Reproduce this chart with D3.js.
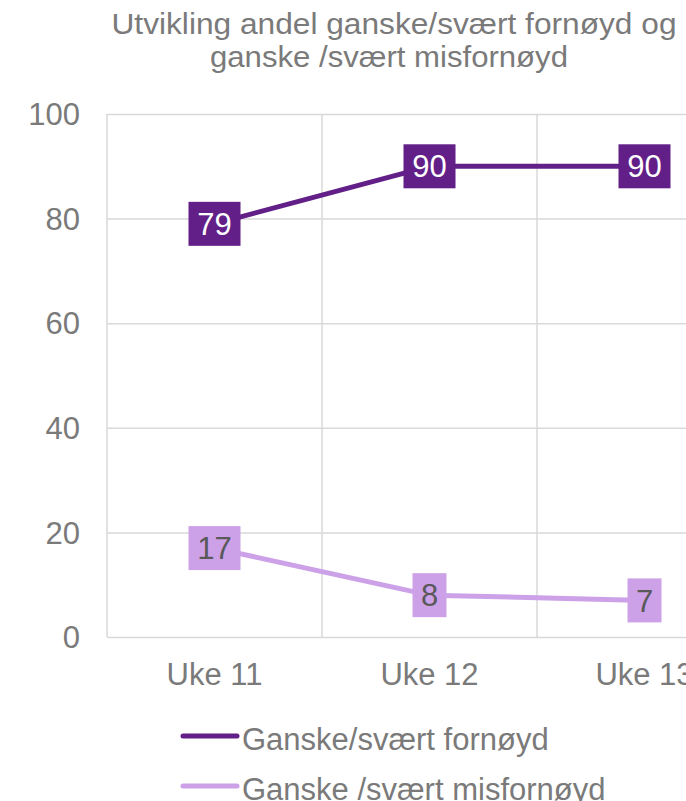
<!DOCTYPE html>
<html>
<head>
<meta charset="utf-8">
<title>Utvikling andel ganske/svært fornøyd</title>
<script src="https://d3js.org/d3.v7.min.js"></script>
<style>
  body { margin: 0; background: #fff; }
  text { font-family: "Liberation Sans", Arial, sans-serif; }
  .grid line { stroke: #d9d9d9; stroke-width: 1.5; }
  .grid path { display: none; }
</style>
</head>
<body>
<svg id="chart" width="686" height="801"></svg>
<script>
var categories = ["Uke 11", "Uke 12", "Uke 13"];
var fornoyd = [79, 90, 90];
var misfornoyd = [17, 8, 7];
var yTicks = [0, 20, 40, 60, 80, 100];
var seriesNames = ["Ganske/svært fornøyd", "Ganske /svært misfornøyd"];
var titleLines = ["Utvikling andel ganske/svært fornøyd og", "ganske /svært misfornøyd"];

var svg = d3.select("#chart");
var margin = {left: 107, top: 114},
    plotH = 523,
    step = 215;

var x = d3.scaleBand()
  .domain(categories)
  .range([margin.left, margin.left + step * categories.length]);
var y = d3.scaleLinear()
  .domain([0, 100])
  .range([margin.top + plotH, margin.top]);

// horizontal grid
svg.append("g").attr("class", "grid")
  .attr("transform", "translate(" + margin.left + ",0)")
  .call(d3.axisLeft(y).tickValues(yTicks).tickSize(-(step * 3)).tickFormat(""));

// vertical grid at category boundaries
svg.append("g").attr("class", "grid")
  .selectAll("line")
  .data(d3.range(categories.length + 1))
  .enter().append("line")
  .attr("x1", function(i) { return margin.left + i * step; })
  .attr("x2", function(i) { return margin.left + i * step; })
  .attr("y1", y(100))
  .attr("y2", y(0));

// y tick labels
svg.append("g").selectAll("text")
  .data(yTicks)
  .enter().append("text")
  .attr("x", 80)
  .attr("y", function(d) { return y(d); })
  .attr("dy", "0.36em")
  .attr("text-anchor", "end")
  .attr("fill", "#7a7a7a")
  .style("font-size", "31px")
  .text(function(d) { return d; });

// x labels
svg.append("g").selectAll("text")
  .data(categories)
  .enter().append("text")
  .attr("x", function(d) { return x(d) + x.bandwidth() / 2; })
  .attr("y", 685)
  .attr("text-anchor", "middle")
  .attr("fill", "#7a7a7a")
  .style("font-size", "31px")
  .text(function(d) { return d; });

// title
var titleSpec = [{cx: 394, y: 34, w: 565}, {cx: 389, y: 67, w: 358}];
titleLines.forEach(function(t, i) {
  svg.append("text")
    .attr("x", titleSpec[i].cx)
    .attr("y", titleSpec[i].y)
    .attr("text-anchor", "middle")
    .attr("fill", "#7a7a7a")
    .attr("textLength", titleSpec[i].w)
    .attr("lengthAdjust", "spacingAndGlyphs")
    .style("font-size", "29px")
    .text(t);
});

var series = [
  {name: seriesNames[0], values: fornoyd, color: "#621f88", textColor: "#ffffff"},
  {name: seriesNames[1], values: misfornoyd, color: "#cca1e8", textColor: "#595959"}
];

var line = d3.line()
  .x(function(d, i) { return x(categories[i]) + x.bandwidth() / 2; })
  .y(function(d) { return y(d); });

series.forEach(function(s) {
  svg.append("path")
    .datum(s.values)
    .attr("fill", "none")
    .attr("stroke", s.color)
    .attr("stroke-width", 5)
    .attr("stroke-linejoin", "round")
    .attr("d", line);
});

// data labels
series.forEach(function(s) {
  var g = svg.append("g");
  s.values.forEach(function(v, i) {
    var cx = x(categories[i]) + x.bandwidth() / 2;
    var cy = y(v);
    var w = String(v).length > 1 ? 52 : 34;
    g.append("rect")
      .attr("x", cx - w / 2)
      .attr("y", cy - 22)
      .attr("width", w)
      .attr("height", 44)
      .attr("fill", s.color);
    g.append("text")
      .attr("x", cx)
      .attr("y", cy)
      .attr("dy", "0.36em")
      .attr("text-anchor", "middle")
      .attr("fill", s.textColor)
      .style("font-size", "31px")
      .text(v);
  });
});

// legend
series.forEach(function(s, i) {
  var ly = 736 + i * 50;
  svg.append("line")
    .attr("x1", 183).attr("x2", 237)
    .attr("y1", ly).attr("y2", ly)
    .attr("stroke", s.color)
    .attr("stroke-width", 5)
    .attr("stroke-linecap", "round");
  svg.append("text")
    .attr("x", 242)
    .attr("y", ly + 14)
    .attr("fill", "#7a7a7a")
    .style("font-size", "31px")
    .text(s.name);
});
</script>
</body>
</html>
